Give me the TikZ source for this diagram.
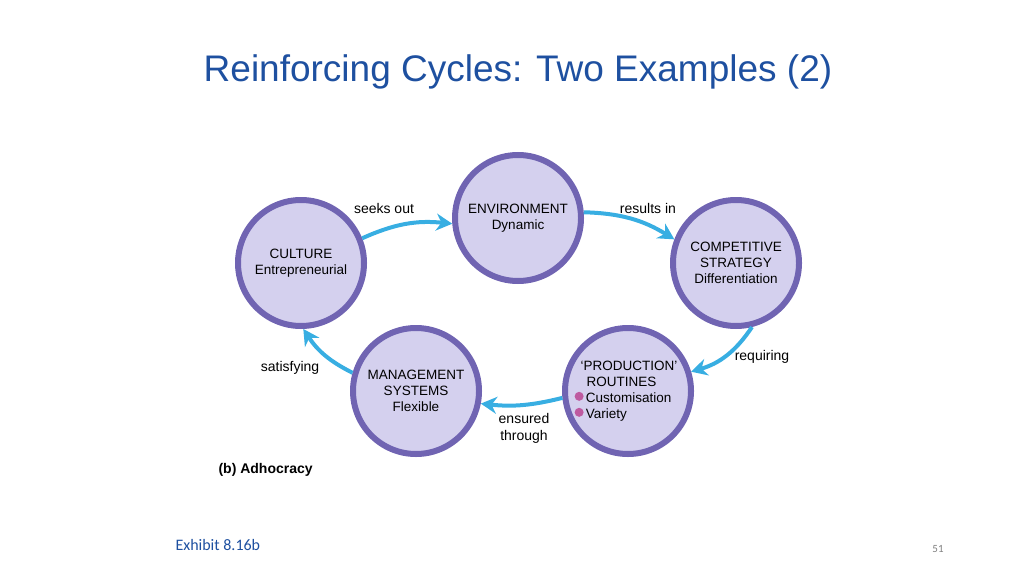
\documentclass[tikz,border=0pt]{standalone}
\usepackage{fontspec}
\setmainfont{Liberation Sans}
\newfontfamily\bodyfont{Carlito}
\usetikzlibrary{arrows.meta}
\definecolor{ring}{RGB}{112,100,178}
\definecolor{disc}{RGB}{212,208,238}
\definecolor{flow}{RGB}{56,174,226}
\definecolor{titleblue}{RGB}{30,80,160}
\definecolor{dot}{RGB}{190,90,160}
\tikzset{
  stage/.style={circle,draw=ring,line width=6pt,fill=disc,minimum size=126pt,inner sep=0pt},
  word/.style={align=center,font=\fontsize{13.5}{16}\selectfont},
  link/.style={draw=flow,line width=4pt,-{Stealth[length=16pt,width=17pt]}},
  tag/.style={font=\fontsize{14}{17}\selectfont,align=center}
}
\newcommand{\bul}{\textcolor{dot}{\raisebox{1.5pt}{\tikz\fill circle(4.5pt);}}\,}
\begin{document}
\begin{tikzpicture}[x=1pt,y=-1pt]
\useasboundingbox (0,0) rectangle (1024,575);
\node[font=\fontsize{37}{42}\selectfont,text=titleblue] (title) at (518,72) {Reinforcing Cycles: Two Examples (2)};
\node[stage] (env) at (518,218) {};
\node[stage] (cul) at (301,263) {};
\node[stage] (com) at (736,263) {};
\node[stage] (pro) at (628,391) {};
\node[stage] (man) at (416,391) {};
\node[word] (envt) at (env) {ENVIRONMENT\\Dynamic};
\node[word] (cult) at (cul) {CULTURE\\Entrepreneurial};
\node[word] (comt) at (com) {COMPETITIVE\\STRATEGY\\Differentiation};
\node[word,align=left] (prot) at ([xshift=-2pt]pro) {\hspace*{6pt}`PRODUCTION'\\\hspace*{12pt}ROUTINES\\\bul Customisation\\\bul Variety};
\node[word] (mant) at (man) {MANAGEMENT\\SYSTEMS\\Flexible};
% cycle
\draw[link] (cul.22) to[bend left=15] (env.185);
\draw[link] (env.5) to[bend left=15] (com.159);
\draw[link] (com.-76) to[bend left=20] (pro.17);
\draw[link] (pro.186) to[bend left=10] (man.-11);
\draw[link] (man.164) to[bend left=15] (cul.-88);
\node[tag] (l1) at (384,208) {seeks out};
\node[tag] (l2) at (648,208) {results in};
\node[tag] (l3) at (762,357) {requiring};
\node[tag] (l4) at (524,428) {ensured\\through};
\node[tag] (l5) at (290,368) {satisfying};
\node[font=\bfseries\fontsize{14}{17}\selectfont,anchor=west] (cap) at (215,470) {(b) Adhocracy};
\node[font=\bodyfont\fontsize{16}{18}\selectfont,text=titleblue,anchor=west] (ex) at (172,545) {Exhibit 8.16b};
\node[font=\bodyfont\fontsize{11}{13}\selectfont,text=gray] (pg) at (938,549) {51};
\end{tikzpicture}
\end{document}
